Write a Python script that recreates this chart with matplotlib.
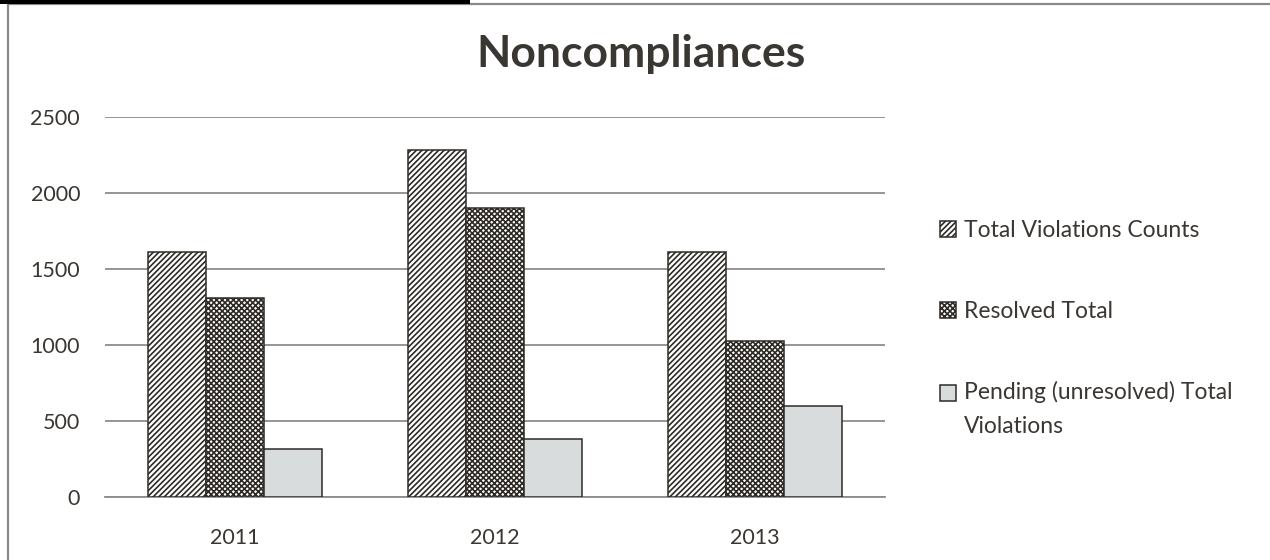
import matplotlib.pyplot as plt
from matplotlib.patches import Rectangle
from matplotlib.legend_handler import HandlerPatch
import numpy as np

years = ["2011", "2012", "2013"]
total_counts = [1615, 2283, 1612]
resolved_total = [1312, 1902, 1027]
pending_total = [318, 380, 598]
series_names = ["Total Violations Counts", "Resolved Total",
                "Pending (unresolved) Total\nViolations"]

plt.rcParams['font.family'] = ['Lato', 'DejaVu Sans']
plt.rcParams['hatch.linewidth'] = 1.2
txt = "#3a3631"
edge = "#2e2a26"

fig = plt.figure(figsize=(12.7, 5.6), dpi=100)
ax = fig.add_axes([105/1270, 1-497/560, 780/1270, 380/560])

x = np.arange(len(years))
w = 0.223
ax.bar(x - w, total_counts, w, facecolor="white", edgecolor=edge, hatch="//////",
       linewidth=1.1, label=series_names[0], zorder=3)
ax.bar(x, resolved_total, w, facecolor="white", edgecolor=edge, hatch="xxxxxx",
       linewidth=1.1, label=series_names[1], zorder=3)
pend = ax.bar(x + w, pending_total, w, facecolor="#d9dcdc", edgecolor=edge,
              linewidth=1.1, label=series_names[2], zorder=3)

ax.set_xlim(-0.5, 2.5)
ax.set_ylim(0, 2500)
ax.set_yticks(range(0, 2501, 500))
ax.set_xticks(x)
ax.set_xticklabels(years)
ax.grid(axis="y", color="#8c8c8c", linewidth=1.3, zorder=0)
for s in ["left", "right", "top"]:
    ax.spines[s].set_visible(False)
ax.spines["bottom"].set_color("#8c8c8c")
ax.spines["bottom"].set_linewidth(1.3)
ax.tick_params(length=0, labelsize=15.5, colors=txt)
ax.tick_params(axis="x", pad=22)
ax.tick_params(axis="y", pad=18)

fig.text(0.505, 1-54/560, "Noncompliances", ha="center", va="center",
         fontsize=32, fontweight="bold", color=txt)


# put the key square of the two-line entry next to its first line
def first_line_patch(legend, orig_handle, xdescent, ydescent, width, height, fontsize):
    return Rectangle((-xdescent, -ydescent + 12.2), width, height)


def style_from_bar(legend_handle, orig_handle):
    legend_handle.update_from(orig_handle.patches[0])


leg = ax.legend(loc="upper left", bbox_to_anchor=(940/1270, 1-220/560),
                bbox_transform=fig.transFigure, frameon=False, fontsize=16.5,
                handlelength=0.7, handleheight=0.7, handletextpad=0.35,
                labelspacing=2.6, borderpad=0, borderaxespad=0,
                handler_map={pend: HandlerPatch(patch_func=first_line_patch,
                                                update_func=style_from_bar)})
for t in leg.get_texts():
    t.set_color(txt)
    t.set_linespacing(1.75)

# outer chart frame and the rule above it
fig.add_artist(Rectangle((8/1270, -0.2), 2, 1.2 - 4/560, transform=fig.transFigure,
                         fill=False, edgecolor="#8a8a8a", linewidth=1.6))
fig.add_artist(Rectangle((0, 1-4/560), 470/1270, 4/560, transform=fig.transFigure,
                         facecolor="black", edgecolor="none"))

fig.savefig("out.png", dpi=100)
